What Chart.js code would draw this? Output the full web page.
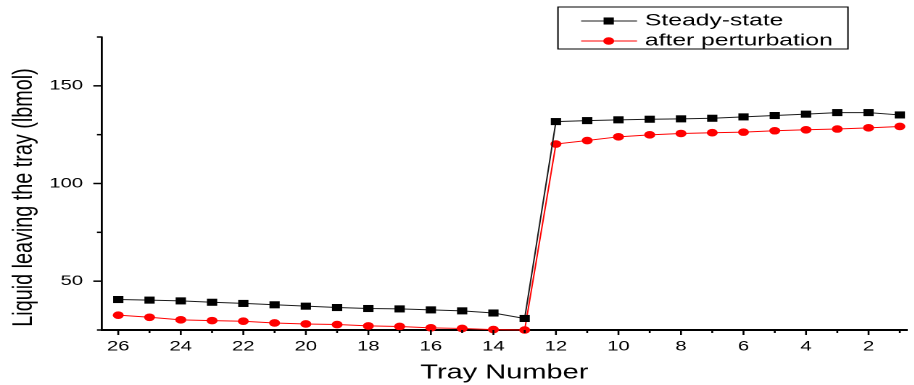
<!DOCTYPE html>
<html>
<head>
<meta charset="utf-8">
<script src="https://cdn.jsdelivr.net/npm/chart.js@4/dist/chart.umd.min.js"></script>
<style>
  html, body { margin: 0; padding: 0; background: #fff; overflow: hidden; }
  #wrap { position: absolute; left: 0; top: 0; height: 385px; transform-origin: 0 0; }
</style>
</head>
<body>
<div id="wrap"><canvas id="chart"></canvas></div>
<script>
// Tray numbers, top of the column (26) to bottom (1)
const trays = [26, 25, 24, 23, 22, 21, 20, 19, 18, 17, 16, 15, 14, 13, 12, 11, 10, 9, 8, 7, 6, 5, 4, 3, 2, 1];

// Liquid flow leaving each tray, lbmol
const steadyState = [40.6, 40.3, 39.9, 39.2, 38.6, 37.9, 37.2, 36.5, 36.0, 35.8, 35.3, 34.8, 33.7, 30.9,
                     131.7, 132.2, 132.6, 132.9, 133.1, 133.4, 134.1, 134.8, 135.5, 136.3, 136.3, 135.1];
const afterPerturbation = [32.6, 31.5, 30.2, 29.8, 29.5, 28.6, 28.1, 27.8, 27.1, 26.8, 26.1, 25.8, 25.2, 25.0,
                           120.2, 122.0, 123.9, 124.9, 125.6, 126.0, 126.3, 127.0, 127.5, 127.9, 128.5, 129.2];

const seriesNames = ['Steady-state', 'after perturbation'];
const xTickLabels = [26, 24, 22, 20, 18, 16, 14, 12, 10, 8, 6, 4, 2];
const yTickLabels = [50, 100, 150];
const xTitle = 'Tray Number';
const yTitle = 'Liquid leaving the tray (lbmol)';

// The figure is laid out narrow and widened horizontally
const STRETCH = 1.45;
const wrap = document.getElementById('wrap');
wrap.style.width = (914 / STRETCH) + 'px';
wrap.style.transform = 'scaleX(' + STRETCH + ')';

const FONT = "'Liberation Sans', Arial, sans-serif";

// Major and minor tick marks on both axes
const tickMarks = {
  id: 'tickMarks',
  afterDraw(chart) {
    const { ctx, scales: { x, y } } = chart;
    ctx.save();
    ctx.strokeStyle = '#000';
    ctx.lineWidth = 1.3;
    trays.forEach(t => {
      const px = x.getPixelForValue(t);
      const len = t % 2 === 0 ? 5 : 3;
      ctx.beginPath();
      ctx.moveTo(px, x.top);
      ctx.lineTo(px, x.top + len);
      ctx.stroke();
    });
    ctx.lineWidth = 1.5;
    for (let v = y.min; v <= y.max + 0.001; v += 25) {
      const py = y.getPixelForValue(v);
      const len = v % 50 === 0 ? 6 : 3.5;
      ctx.beginPath();
      ctx.moveTo(y.right, py);
      ctx.lineTo(y.right - len, py);
      ctx.stroke();
    }
    ctx.restore();
  }
};

// Vertical axis title, set slightly below the middle of the axis
const yAxisTitle = {
  id: 'yAxisTitle',
  afterDraw(chart) {
    const { ctx, chartArea } = chart;
    ctx.save();
    ctx.translate(16.4, (chartArea.top + chartArea.bottom) / 2 + 14);
    ctx.rotate(-Math.PI / 2);
    ctx.fillStyle = '#000';
    ctx.font = '19.8px ' + FONT;
    ctx.textAlign = 'center';
    ctx.textBaseline = 'middle';
    ctx.fillText(yTitle, 0, 0);
    ctx.restore();
  }
};

// Boxed legend in the upper right
const boxLegend = {
  id: 'boxLegend',
  afterDraw(chart) {
    const { ctx } = chart;
    const bx = 384.8, by = 7, bw = 200, bh = 42;
    ctx.save();
    ctx.strokeStyle = '#000';
    ctx.lineWidth = 1;
    ctx.strokeRect(bx, by, bw, bh);
    const rows = [by + 14, by + 34];
    chart.data.datasets.forEach((ds, i) => {
      const yy = rows[i];
      ctx.strokeStyle = ds.borderColor;
      ctx.lineWidth = 1;
      ctx.beginPath();
      ctx.moveTo(bx + 16, yy);
      ctx.lineTo(bx + 54.5, yy);
      ctx.stroke();
      ctx.fillStyle = ds.pointBackgroundColor;
      ctx.strokeStyle = ds.pointBorderColor;
      Chart.helpers.drawPoint(ctx, { pointStyle: ds.pointStyle, radius: ds.pointRadius, rotation: 0, borderWidth: 0 }, bx + 35, yy);
      ctx.fillStyle = '#000';
      ctx.font = '17px ' + FONT;
      ctx.textBaseline = 'middle';
      ctx.textAlign = 'left';
      ctx.fillText(ds.label, bx + 60, yy);
    });
    ctx.restore();
  }
};

const toPoints = vals => trays.map((t, i) => ({ x: t, y: vals[i] }));

new Chart(document.getElementById('chart'), {
  type: 'line',
  data: {
    datasets: [
      {
        label: seriesNames[0],
        data: toPoints(steadyState),
        borderColor: '#1a1a1a',
        borderWidth: 1,
        pointStyle: 'rect',
        pointRadius: 5,
        pointBorderWidth: 0,
        pointBackgroundColor: '#000',
        pointBorderColor: '#000',
        clip: false
      },
      {
        label: seriesNames[1],
        data: toPoints(afterPerturbation),
        borderColor: '#ff0000',
        borderWidth: 1,
        pointStyle: 'circle',
        pointRadius: 3.8,
        pointBorderWidth: 0,
        pointBackgroundColor: '#ff0000',
        pointBorderColor: '#ff0000',
        clip: false
      }
    ]
  },
  options: {
    responsive: true,
    maintainAspectRatio: false,
    animation: false,
    devicePixelRatio: 2,
    layout: { padding: { top: 37, right: 0, left: 0, bottom: 0 } },
    plugins: { legend: { display: false }, tooltip: { enabled: false } },
    scales: {
      x: {
        type: 'linear',
        reverse: true,
        min: 0.78,
        max: 26.52,
        afterBuildTicks: axis => { axis.ticks = xTickLabels.map(v => ({ value: v })); },
        afterFit: axis => { axis.height = 55; },
        grid: { display: false, drawTicks: false },
        border: { display: true, color: '#000', width: 2 },
        ticks: {
          padding: 8,
          maxRotation: 0,
          autoSkip: false,
          color: '#000',
          font: { family: FONT, size: 14 }
        },
        title: {
          display: true,
          text: xTitle,
          color: '#000',
          font: { family: FONT, size: 20, lineHeight: 1.2 },
          padding: { top: 0, bottom: 0 }
        }
      },
      y: {
        type: 'linear',
        min: 25,
        max: 175,
        afterBuildTicks: axis => { axis.ticks = yTickLabels.map(v => ({ value: v })); },
        afterFit: axis => { axis.width = 102 / STRETCH; },
        grid: { display: false, drawTicks: false },
        border: { display: true, color: '#000', width: 1.4 },
        ticks: {
          padding: 13,
          color: '#000',
          font: { family: FONT, size: 14 }
        },
        title: { display: false, text: yTitle }
      }
    }
  },
  plugins: [tickMarks, yAxisTitle, boxLegend]
});
</script>
</body>
</html>
